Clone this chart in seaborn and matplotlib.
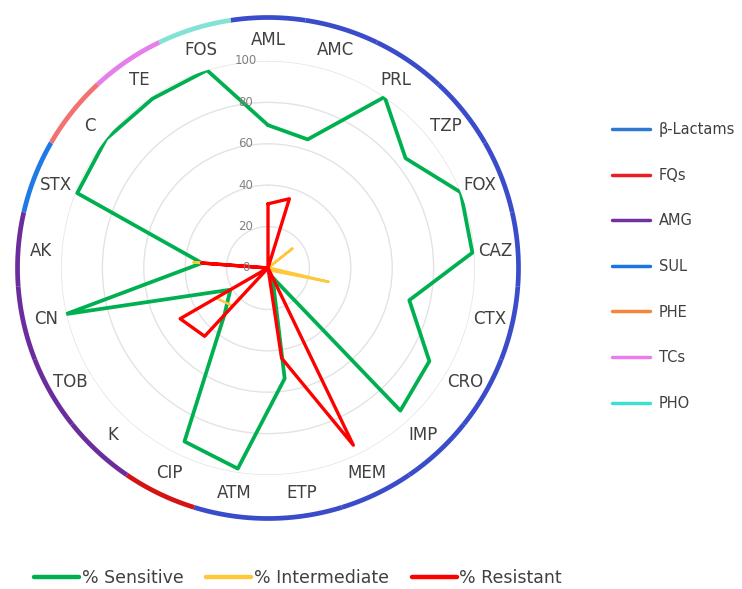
import numpy as np
import pandas as pd
import seaborn as sns
import matplotlib
matplotlib.use('Agg')
import matplotlib.pyplot as plt
from matplotlib.lines import Line2D

# Antibiotics, clockwise from the top
antibiotics = ['AML', 'AMC', 'PRL', 'TZP', 'FOX', 'CAZ', 'CTX', 'CRO', 'IMP',
               'MEM', 'ETP', 'ATM', 'CIP', 'K', 'TOB', 'CN', 'AK', 'STX', 'C',
               'TE', 'FOS']
# Percentage of isolates in each class
sensitive = [69, 65, 100, 85, 100, 99, 70, 90, 94, 5, 54, 98, 93, 31, 21, 100,
             32, 99, 100, 99, 100]
intermediate = [0, 0, 0, 15, 0, 1, 30, 3, 0, 0, 0, 0, 0, 25, 29, 0, 36, 0, 0,
                0, 0]
resistant = [31, 35, 0, 0, 0, 0, 0, 0, 0, 95, 44, 0, 0, 45, 49, 0, 32, 0, 0,
             0, 0]

# Antibiotic family of each antibiotic (outer ring)
families = ['β-Lactams'] * 12 + ['FQs'] + ['AMG'] * 4 + ['SUL', 'PHE', 'TCs', 'PHO']
family_order = ['β-Lactams', 'FQs', 'AMG', 'SUL', 'PHE', 'TCs', 'PHO']
ring_colors = {'β-Lactams': '#3a4cc9', 'FQs': '#d41414', 'AMG': '#6c2d9c',
               'SUL': '#1f7ae6', 'PHE': '#f27272', 'TCs': '#e57fe9',
               'PHO': '#82e2d4'}
legend_colors = {'β-Lactams': '#2e78d2', 'FQs': '#e81e24', 'AMG': '#7032a2',
                 'SUL': '#1c74e2', 'PHE': '#f5863a', 'TCs': '#ea7cee',
                 'PHO': '#3fe0d2'}

series_names = ['% Sensitive', '% Intermediate', '% Resistant']
series_colors = {'% Sensitive': '#00b050', '% Intermediate': '#ffc83a',
                 '% Resistant': '#ff0000'}
series_width = {'% Sensitive': 2.7, '% Intermediate': 1.8, '% Resistant': 2.4}
r_ticks = [0, 20, 40, 60, 80, 100]

n = len(antibiotics)
step = 2 * np.pi / n
theta = np.arange(n) * step

# Long table, closing each polygon back on the first antibiotic
rows = []
for name, vals in zip(series_names, [sensitive, intermediate, resistant]):
    for k in range(n + 1):
        rows.append([name, theta[k % n] if k < n else 2 * np.pi, vals[k % n]])
df = pd.DataFrame(rows, columns=['series', 'theta', 'value'])

sns.set_theme(style='white')
plt.rcParams['font.family'] = ['DejaVu Sans']

fig = plt.figure(figsize=(7.42, 5.89), dpi=100)
ax = fig.add_axes([0.0822, 0.1935, 0.558, 0.703], projection='polar')
ax.set_theta_zero_location('N')
ax.set_theta_direction(-1)

for name in series_names:
    sns.lineplot(data=df[df['series'] == name], x='theta', y='value',
                 sort=False, estimator=None, color=series_colors[name],
                 linewidth=series_width[name], legend=False, ax=ax)

# Coloured ring showing the antibiotic families
for i, fam in enumerate(families):
    th = np.linspace((i - 0.5) * step, (i + 0.5) * step, 30)
    ax.plot(th, np.full_like(th, 121.0), color=ring_colors[fam], lw=3.4,
            clip_on=False, solid_capstyle='butt')

ax.set_ylim(0, 100)
ax.set_yticks(r_ticks)
ax.set_yticklabels([])
ax.yaxis.grid(True, color='#e3e3e3', linewidth=1)
ax.xaxis.grid(False)
ax.spines['polar'].set_visible(False)
ax.set_xlabel('')
ax.set_ylabel('')

ax.set_xticks(theta)
ax.set_xticklabels(antibiotics, fontsize=12, color='#404040')
ax.tick_params(axis='x', pad=2)

for v in r_ticks:
    ax.annotate(str(v), xy=(0, v), xytext=(-16, 0), textcoords='offset points',
                ha='center', va='center', fontsize=8.5, color='#808080')

# Family legend on the right
fam_handles = [Line2D([0], [0], color=legend_colors[f], lw=2.5) for f in family_order]
fig.legend(fam_handles, family_order, loc='upper left',
           bbox_to_anchor=(0.807, 0.815), frameon=False, fontsize=10.5,
           handlelength=2.6, handletextpad=0.6, labelspacing=2.1,
           labelcolor='#404040')

# Series legend at the bottom
ser_handles = [Line2D([0], [0], color=series_colors[s], lw=3.2) for s in series_names]
fig.legend(ser_handles, series_names, loc='center left',
           bbox_to_anchor=(0.025, 0.019), frameon=False, fontsize=12.5, ncol=3,
           handlelength=2.6, handletextpad=0.15, columnspacing=1.3,
           labelcolor='#404040')

fig.savefig('out.png', dpi=100)
